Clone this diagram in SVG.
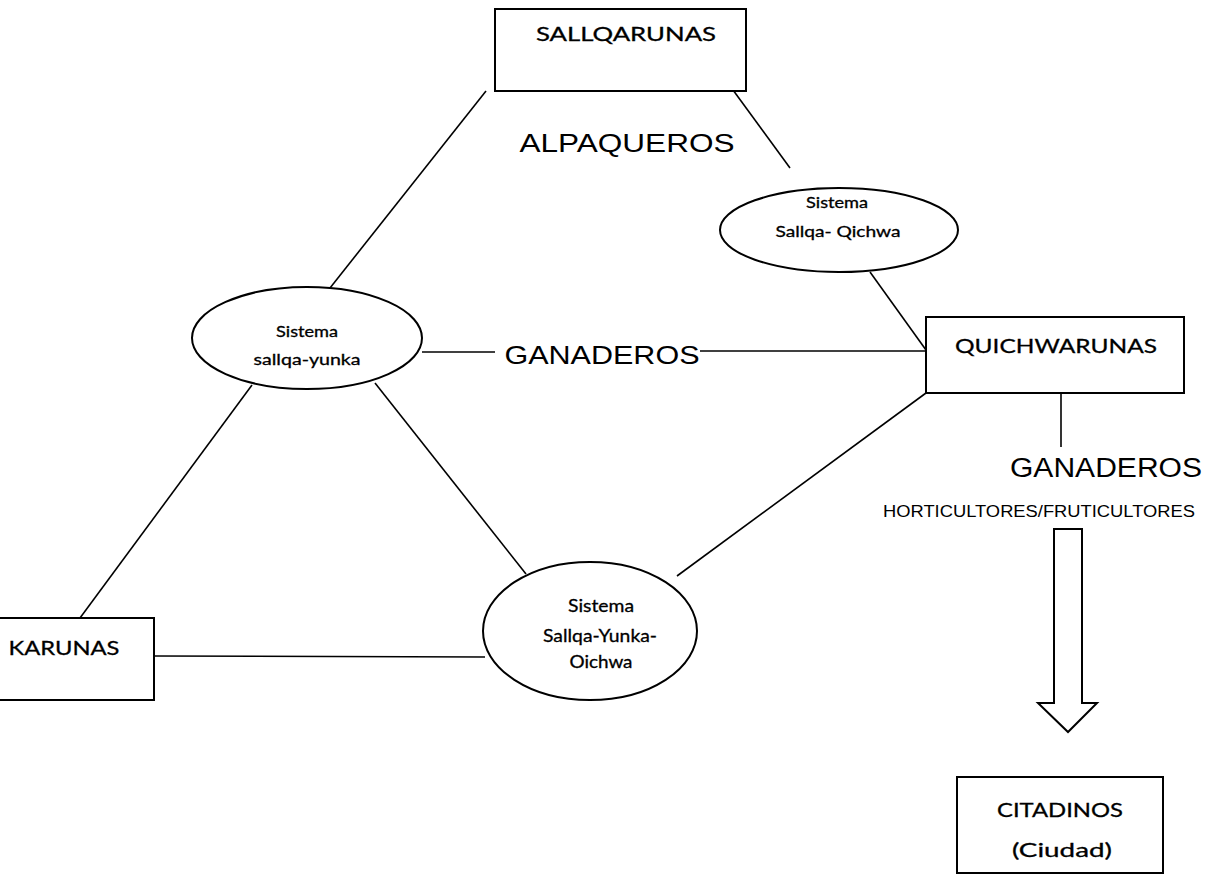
<svg xmlns="http://www.w3.org/2000/svg" width="1211" height="881" viewBox="0 0 1211 881">
<style>
.box{fill:#fff;stroke:#000;stroke-width:2}
.ell{fill:#fff;stroke:#000;stroke-width:2}
.ln{stroke:#000;stroke-width:1.6;fill:none}
.c{font-family:Lato,"Open Sans","DejaVu Sans",sans-serif;fill:#000;text-anchor:middle;stroke:#000;stroke-width:0.3}
.a{font-family:"Liberation Sans",Arial,sans-serif;fill:#000;text-anchor:middle}
</style>
<rect width="1211" height="881" fill="#fff"/>
<g id="connectors">
<line class="ln" x1="486" y1="91" x2="330" y2="288"/>
<line class="ln" x1="733" y1="90" x2="790" y2="168"/>
<line class="ln" x1="870" y1="272" x2="926" y2="350"/>
<line class="ln" x1="422" y1="352" x2="495" y2="352"/>
<line class="ln" x1="700" y1="351" x2="926" y2="351"/>
<line class="ln" x1="926" y1="393" x2="677" y2="576"/>
<line class="ln" x1="1061" y1="393" x2="1061" y2="447"/>
<line class="ln" x1="252" y1="385" x2="80" y2="618"/>
<line class="ln" x1="375" y1="383" x2="526" y2="574"/>
<line class="ln" x1="154" y1="656" x2="485" y2="657"/>
</g>
<g id="sallqarunas">
<rect class="box" x="495" y="9" width="251" height="82"/>
<text class="c" x="626" y="41" font-size="19" textLength="180" lengthAdjust="spacingAndGlyphs">SALLQARUNAS</text>
</g>
<g id="alpaqueros">
<text class="a" x="627" y="152" font-size="26" textLength="215" lengthAdjust="spacingAndGlyphs">ALPAQUEROS</text>
</g>
<g id="sistema-sallqa-qichwa">
<ellipse class="ell" cx="839" cy="230" rx="119" ry="42"/>
<text class="c" x="837" y="208" font-size="15" textLength="62" lengthAdjust="spacingAndGlyphs">Sistema</text>
<text class="c" x="838" y="237" font-size="15" textLength="125" lengthAdjust="spacingAndGlyphs">Sallqa- Qichwa</text>
</g>
<g id="sistema-sallqa-yunka">
<ellipse class="ell" cx="307" cy="338" rx="115" ry="51"/>
<text class="c" x="307" y="337" font-size="15" textLength="62" lengthAdjust="spacingAndGlyphs">Sistema</text>
<text class="c" x="307" y="365" font-size="15" textLength="107" lengthAdjust="spacingAndGlyphs">sallqa-yunka</text>
</g>
<g id="ganaderos-centro">
<text class="a" x="602" y="364" font-size="26" textLength="195" lengthAdjust="spacingAndGlyphs">GANADEROS</text>
</g>
<g id="quichwarunas">
<rect class="box" x="926" y="317" width="258" height="76"/>
<text class="c" x="1056" y="353" font-size="20" textLength="202" lengthAdjust="spacingAndGlyphs">QUICHWARUNAS</text>
</g>
<g id="ganaderos-derecha">
<text class="a" x="1106" y="477" font-size="27" textLength="192" lengthAdjust="spacingAndGlyphs">GANADEROS</text>
</g>
<g id="horticultores">
<text class="a" x="1039" y="517" font-size="16" textLength="312" lengthAdjust="spacingAndGlyphs">HORTICULTORES/FRUTICULTORES</text>
</g>
<g id="flecha">
<path class="box" d="M1054 529 L1082 529 L1082 703 L1097 703 L1068 732 L1038 703 L1054 703 Z"/>
</g>
<g id="karunas">
<rect class="box" x="-2" y="618" width="156" height="82"/>
<text class="c" x="64" y="655" font-size="20" textLength="111" lengthAdjust="spacingAndGlyphs">KARUNAS</text>
</g>
<g id="sistema-sallqa-yunka-oichwa">
<ellipse class="ell" cx="590" cy="631" rx="107" ry="69"/>
<text class="c" x="601" y="612" font-size="17" textLength="66" lengthAdjust="spacingAndGlyphs">Sistema</text>
<text class="c" x="600" y="642" font-size="17" textLength="114" lengthAdjust="spacingAndGlyphs">Sallqa-Yunka-</text>
<text class="c" x="601" y="668" font-size="17" textLength="63" lengthAdjust="spacingAndGlyphs">Oichwa</text>
</g>
<g id="citadinos">
<rect class="box" x="957" y="777" width="206" height="96"/>
<text class="c" x="1060" y="817" font-size="20" textLength="126" lengthAdjust="spacingAndGlyphs">CITADINOS</text>
<text class="c" x="1062" y="857" font-size="20" textLength="100" lengthAdjust="spacingAndGlyphs">(Ciudad)</text>
</g>
</svg>
